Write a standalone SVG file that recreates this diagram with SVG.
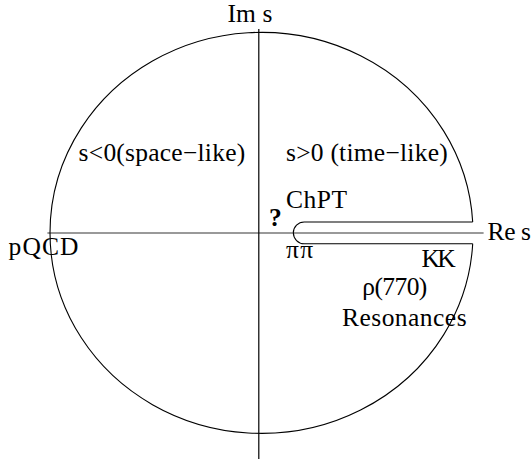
<svg xmlns="http://www.w3.org/2000/svg" width="531" height="459" viewBox="0 0 531 459">
<style>
text{font-family:"Liberation Serif","Times New Roman",serif;font-size:25.5px;fill:#000}
.ln{fill:none;stroke:#000;stroke-width:1.1}
</style>
<rect width="531" height="459" fill="#fff"/>
<g id="axes">
<line x1="47.4" y1="233" x2="483.6" y2="233" stroke="#777" stroke-width="1.6"/>
<line x1="258.8" y1="29" x2="258.8" y2="459" stroke="#000" stroke-width="1.2"/>
</g>
<g id="contour">
<path class="ln" d="M472.7 222 A211.5 200.5 0 1 0 472.7 243.7"/>
<path class="ln" d="M472.7 222 H304.2 A10.85 10.85 0 0 0 304.2 243.7 H472.7"/>
</g>
<g id="labels">
<text x="227.5" y="21.7" textLength="45" lengthAdjust="spacing">Im s</text>
<text x="78.6" y="160.7" textLength="166.6" lengthAdjust="spacing">s&lt;0(space−like)</text>
<text x="286" y="160.7" textLength="161.7" lengthAdjust="spacing">s&gt;0 (time−like)</text>
<text x="286" y="208.3" textLength="61" lengthAdjust="spacing">ChPT</text>
<text x="269" y="225.5" font-weight="bold" font-size="28">?</text>
<text x="487.6" y="240" textLength="43.4" lengthAdjust="spacing">Re s</text>
<text x="8.5" y="255" textLength="70" lengthAdjust="spacing">pQCD</text>
<text x="286" y="258" textLength="27" lengthAdjust="spacing">ππ</text>
<text x="421.6" y="266.7" textLength="34" lengthAdjust="spacing">KK</text>
<text x="362.3" y="295" textLength="65" lengthAdjust="spacing">ρ(770)</text>
<text x="342" y="326" textLength="124.6" lengthAdjust="spacing">Resonances</text>
</g>
</svg>
